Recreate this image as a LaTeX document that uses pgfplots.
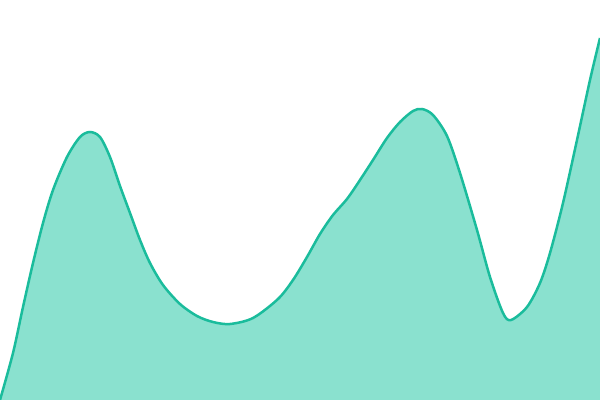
\documentclass[border=0pt]{standalone}
\usepackage{pgfplots}
\pgfplotsset{compat=1.18}
\definecolor{linec}{HTML}{1ABC9C}
\definecolor{areac}{HTML}{8AE1CF}
\pgfplotstableread{
x y
0 0
13 47
23 93
33 137
43 177
53 210
67 243
80 263
90 268
100 263
110 243
120 214
130 187
140 160
150 137
163 115
180 96
197 84
213 78
230 76
253 82
278 101
293 120
307 143
320 166
333 185
347 201
360 220
373 240
387 262
400 278
413 289
422 291
433 285
447 264
460 227
477 170
490 123
503 87
511 80
527 93
540 117
550 147
563 197
577 260
590 320
600 362
}\curve
\begin{document}
\begin{tikzpicture}
\path[use as bounding box] (0,0) rectangle (600bp,400bp);
\begin{axis}[
  at={(0,0)}, anchor=south west,
  width=600bp, height=400bp, scale only axis,
  xmin=0, xmax=600, ymin=0, ymax=400,
  hide axis,
]
\addplot[draw=none, fill=areac, smooth, tension=0.5] table {\curve} \closedcycle;
\addplot[linec, line width=2.5bp, smooth, tension=0.5] table {\curve};
\end{axis}
\end{tikzpicture}
\end{document}
